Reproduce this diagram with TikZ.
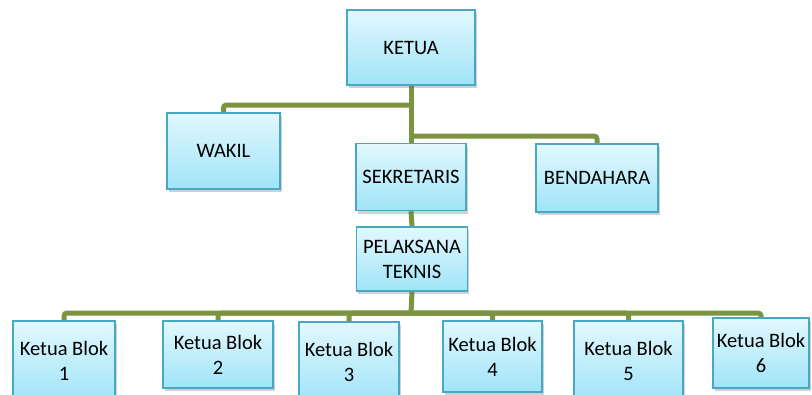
\documentclass[tikz,border=0pt]{standalone}
\usepackage{fontspec}
\setmainfont{Carlito}
\usetikzlibrary{shadows,backgrounds}
\definecolor{linkgreen}{RGB}{124,148,64}
\definecolor{boxtop}{RGB}{226,248,254}
\definecolor{boxbottom}{RGB}{160,228,248}
\definecolor{boxedge}{RGB}{72,168,196}
\tikzset{
  orgbox/.style={draw=boxedge, line width=1.6pt, top color=boxtop, bottom color=boxbottom,
    align=center, inner sep=0pt, font=\fontsize{20.5}{25}\selectfont,
    drop shadow={shadow xshift=1.5pt, shadow yshift=-3pt, opacity=0.3, fill=black!60}},
  link/.style={draw=linkgreen, line width=5pt, rounded corners=3pt}
}
\begin{document}
\begin{tikzpicture}[x=1pt, y=-1pt]
\useasboundingbox (0,0) rectangle (812,394);
\clip (0,0) rectangle (812,394);
% top levels
\node[orgbox, minimum width=128pt, minimum height=75pt] (ketua) at (411,47.5) {KETUA};
\node[orgbox, minimum width=113pt, minimum height=76pt] (wakil) at (223.5,151) {WAKIL};
\node[orgbox, minimum width=110pt, minimum height=67pt] (sek) at (411,177) {SEKRETARIS};
\node[orgbox, minimum width=122pt, minimum height=68pt] (bend) at (597,178) {BENDAHARA};
\node[orgbox, minimum width=111pt, minimum height=64pt] (pel) at (412,259) {PELAKSANA\\TEKNIS};
% block leaders
\node[orgbox, minimum width=102pt, minimum height=80pt] (b1) at (64,361) {Ketua Blok\\1};
\node[orgbox, minimum width=110pt, minimum height=67pt] (b2) at (218,354.5) {Ketua Blok\\2};
\node[orgbox, minimum width=100pt, minimum height=80pt] (b3) at (349,362) {Ketua Blok\\3};
\node[orgbox, minimum width=99pt, minimum height=71pt] (b4) at (492.5,356.5) {Ketua Blok\\4};
\node[orgbox, minimum width=109pt, minimum height=80pt] (b5) at (628.5,361) {Ketua Blok\\5};
\node[orgbox, minimum width=96pt, minimum height=70pt] (b6) at (761,353) {Ketua Blok\\6};
% junctions on the trunk
\coordinate (j1) at (411,105);
\coordinate (j2) at (411,136);
\coordinate (j3) at (411,313);
\begin{scope}[on background layer]
  \draw[link] (ketua.south) -- (sek.north);
  \draw[link] (j1) -| (wakil.north);
  \draw[link] (j2) -| (bend.north);
  \draw[link] (sek.south) -- (pel.north);
  \draw[link] (pel.south) -- (j3);
  \foreach \b in {b1,b2,b3,b4,b5,b6}
    \draw[link] (j3) -| (\b.north);
\end{scope}
\end{tikzpicture}
\end{document}
